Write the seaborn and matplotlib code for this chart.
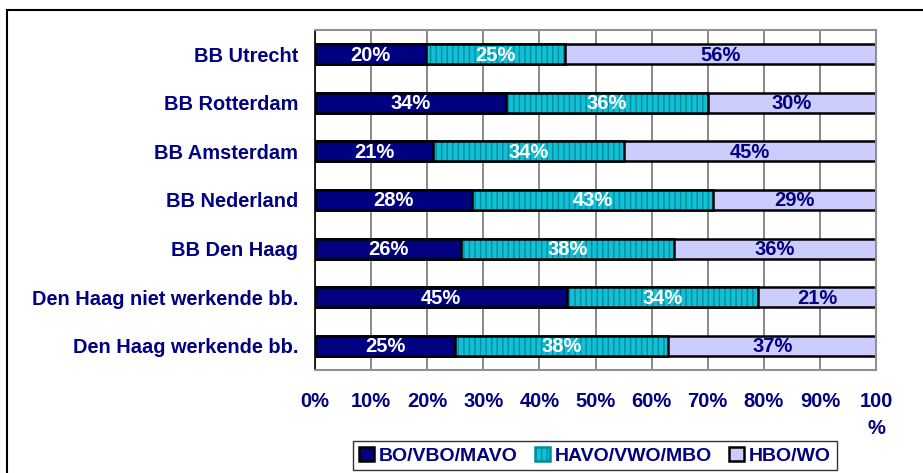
import numpy as np
import pandas as pd
import matplotlib
matplotlib.use("Agg")
import matplotlib.pyplot as plt
from matplotlib.patches import Patch, Rectangle
import seaborn as sns

categories = [
    "BB Utrecht",
    "BB Rotterdam",
    "BB Amsterdam",
    "BB Nederland",
    "BB Den Haag",
    "Den Haag niet werkende bb.",
    "Den Haag werkende bb.",
]
series = ["BO/VBO/MAVO", "HAVO/VWO/MBO", "HBO/WO"]
bo_vbo_mavo = [20, 34, 21, 28, 26, 45, 25]
havo_vwo_mbo = [25, 36, 34, 43, 38, 34, 38]
hbo_wo = [56, 30, 45, 29, 36, 21, 37]
xtick_labels = ["0%", "10%", "20%", "30%", "40%", "50%", "60%", "70%", "80%", "90%", "100\n%"]

NAVY = "#000080"
CYAN = "#12C0D6"
CYAN_HATCH = "#008C9E"
LAVENDER = "#CCCCFF"

sns.set_style("white")
plt.rcParams["font.family"] = ["Liberation Sans", "DejaVu Sans"]
plt.rcParams["font.weight"] = "bold"
plt.rcParams["hatch.linewidth"] = 1.0


def main():
    vals = np.array([bo_vbo_mavo, havo_vwo_mbo, hbo_wo], dtype=float)
    shares = vals / vals.sum(axis=0) * 100  # rows don't always add to exactly 100
    cum1 = shares[0]
    cum2 = shares[0] + shares[1]
    cum3 = cum2 + shares[2]

    df = pd.DataFrame({"cat": categories, "c1": cum1, "c2": cum2, "c3": cum3})

    fig = plt.figure(figsize=(9.23, 4.73), dpi=100)
    ax = fig.add_axes([0.3413, 0.2178, 0.6078, 0.7188])

    bw = 0.41
    common = dict(data=df, y="cat", orient="h", width=bw, saturation=1, ax=ax)
    sns.barplot(x="c3", color=LAVENDER, edgecolor="black", linewidth=1.8, **common)
    # hatched fill first, then the outline on top
    sns.barplot(x="c2", color=CYAN, edgecolor=CYAN_HATCH, linewidth=0, hatch="|||", **common)
    sns.barplot(x="c2", facecolor="none", edgecolor="black", linewidth=1.8, **common)
    sns.barplot(x="c1", color=NAVY, edgecolor="black", linewidth=1.8, **common)

    # percentage labels in each segment
    for i in range(len(categories)):
        starts = [0, cum1[i], cum2[i]]
        for j, (s, w) in enumerate(zip(starts, shares[:, i])):
            col = "white" if j < 2 else NAVY
            ax.text(s + w / 2, i + 0.02, f"{int(vals[j, i])}%", ha="center", va="center",
                    color=col, fontsize=14.5, fontweight="bold")

    ax.set_xlim(0, 100)
    ax.set_ylim(len(categories) - 0.5, -0.5)
    ax.set_xticks(np.arange(0, 101, 10))
    ax.set_xticklabels(xtick_labels, color=NAVY, fontsize=14.5, fontweight="bold",
                       linespacing=1.5, va="top")
    ax.set_yticks(range(len(categories)))
    ax.set_yticklabels(categories, color=NAVY, fontsize=14.4, fontweight="bold")
    ax.set_yticks(np.arange(-0.5, len(categories)), minor=True)
    ax.tick_params(axis="y", which="major", length=0, pad=12)
    ax.tick_params(axis="y", which="minor", length=5, width=1.2, color="black", direction="out")
    ax.tick_params(axis="x", length=5, width=1.2, color="black", direction="out", pad=11)
    ax.set_xlabel("")
    ax.set_ylabel("")

    ax.set_axisbelow(True)
    ax.xaxis.grid(True, color="#808080", linewidth=1.3)
    ax.yaxis.grid(False)
    for side in ["top", "right", "bottom"]:
        ax.spines[side].set_color("#909090")
        ax.spines[side].set_linewidth(1.5)
        ax.spines[side].set_visible(True)
    ax.spines["left"].set_color("black")
    ax.spines["left"].set_linewidth(1.2)

    handles = [
        Patch(facecolor=NAVY, edgecolor="black", linewidth=1.8),
        Patch(facecolor=CYAN, edgecolor=CYAN_HATCH, hatch="|||", linewidth=1.8),
        Patch(facecolor=LAVENDER, edgecolor="black", linewidth=1.8),
    ]
    leg = fig.legend(handles, series, loc="upper center", bbox_to_anchor=(0.6447, 0.068),
                     ncol=3, frameon=True, fancybox=False, edgecolor="black",
                     fontsize=14, handlelength=0.75, handleheight=0.75, handletextpad=0.25,
                     columnspacing=0.9, borderpad=0.3, borderaxespad=0)
    leg.get_frame().set_linewidth(1.0)
    for t in leg.get_texts():
        t.set_color(NAVY)
        t.set_fontweight("bold")

    # outer chart frame, runs off the right and bottom edges
    fig.patches.append(Rectangle((0.0076, -0.1), 1.2, 1.0789, transform=fig.transFigure,
                                 fill=False, edgecolor="black", linewidth=1.5))

    fig.savefig("out.png", dpi=100)


if __name__ == "__main__":
    main()
